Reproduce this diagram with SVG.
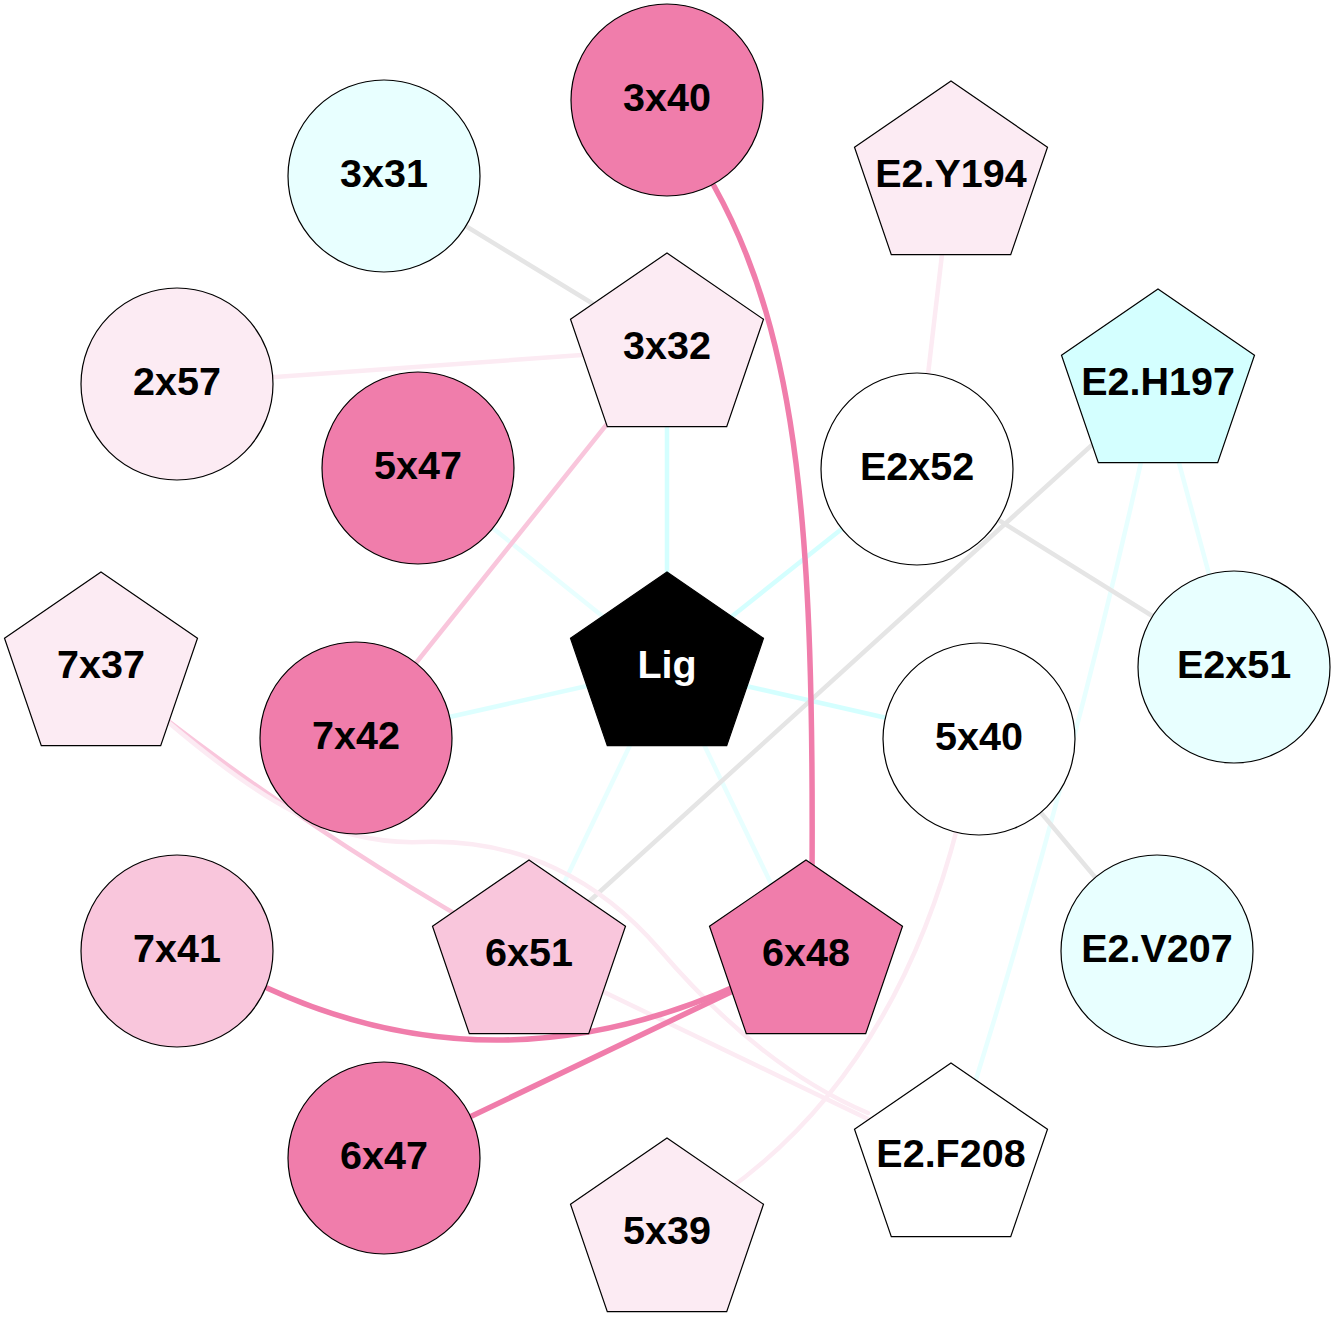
<svg xmlns="http://www.w3.org/2000/svg" xmlns:xlink="http://www.w3.org/1999/xlink" width="1336" height="1336" viewBox="0 0 1336 1336">
<style>
.e{fill:none;stroke-linecap:round;}
.hp{stroke:#F07DAB;stroke-width:5.5;}
.lp{stroke:#F9C6DC;stroke-width:4.5;}
.pp{stroke:#FCEBF3;stroke-width:4.5;}
.c1{stroke:#D4FFFF;stroke-width:4.5;}
.c2{stroke:#DDFFFF;stroke-width:4.5;}
.c3{stroke:#E8FFFF;stroke-width:4.5;}
.gr{stroke:#E5E5E5;stroke-width:4.5;}
.n{stroke:#000;stroke-width:1.2;}
.t{font-family:"Liberation Sans",Arial,Helvetica,sans-serif;font-weight:bold;font-size:39.5px;text-anchor:middle;fill:#000;}
.hot{fill:#F07DAB;}
.lpk{fill:#F9C6DC;}
.ppk{fill:#FCEBF3;}
.cy1{fill:#E8FFFF;}
.cy2{fill:#D4FFFF;}
.wh{fill:#FFFFFF;}
</style>
<defs>
<polygon id="pent" points="0,-96 96.5,-29.7 59.7,77.7 -59.7,77.7 -96.5,-29.7"/>
</defs>
<rect width="1336" height="1336" fill="#FFFFFF"/>
<g id="edges">
<line class="e c1" x1="667" y1="349" x2="667" y2="668"/>
<line class="e c1" x1="917" y1="469" x2="667" y2="668"/>
<line class="e c1" x1="979" y1="739" x2="667" y2="668"/>
<line class="e c2" x1="356" y1="738" x2="667" y2="668"/>
<line class="e c3" x1="418" y1="468" x2="667" y2="668"/>
<line class="e c3" x1="529" y1="956" x2="667" y2="668"/>
<line class="e c3" x1="806" y1="956" x2="667" y2="668"/>
<line class="e c3" x1="1158" y1="385" x2="1234" y2="667"/>
<path class="e c3" d="M1158,385 Q1075,772 951,1159"/>
<line class="e gr" x1="384" y1="176" x2="667" y2="349"/>
<line class="e gr" x1="1158" y1="385" x2="529" y2="956"/>
<line class="e gr" x1="917" y1="469" x2="1234" y2="667"/>
<line class="e gr" x1="979" y1="739" x2="1157" y2="951"/>
<line class="e pp" x1="177" y1="384" x2="667" y2="349"/>
<line class="e lp" x1="667" y1="349" x2="356" y2="738"/>
<line class="e pp" x1="951" y1="177" x2="917" y2="469"/>
<path class="e lp" d="M101,668 Q300,830 529,956"/>
<line class="e pp" x1="529" y1="956" x2="951" y2="1159"/>
<path class="e pp" d="M958,825 Q895,1071 725,1192"/>
<path class="e pp" d="M168,722 C260,800 330,845 420,842 C520,838 600,880 660,950 C720,1020 790,1080 868,1113"/>
<path class="e hp" d="M714,186 C800,340 814,540 812,880"/>
<path class="e hp" d="M267,988 Q500,1095 745,982"/>
<line class="e hp" x1="384" y1="1158" x2="806" y2="956"/>
</g>
<g id="n-3x40"><circle class="n hot" cx="667" cy="100" r="96"/><text class="t" x="667" y="111">3x40</text></g>
<g id="n-3x31"><circle class="n cy1" cx="384" cy="176" r="96"/><text class="t" x="384" y="187">3x31</text></g>
<g id="n-E2.Y194"><use href="#pent" xlink:href="#pent" x="951" y="177" class="n ppk"/><text class="t" x="951" y="187">E2.Y194</text></g>
<g id="n-3x32"><use href="#pent" xlink:href="#pent" x="667" y="349" class="n ppk"/><text class="t" x="667" y="359">3x32</text></g>
<g id="n-2x57"><circle class="n ppk" cx="177" cy="384" r="96"/><text class="t" x="177" y="395">2x57</text></g>
<g id="n-E2.H197"><use href="#pent" xlink:href="#pent" x="1158" y="385" class="n cy2"/><text class="t" x="1158" y="395">E2.H197</text></g>
<g id="n-5x47"><circle class="n hot" cx="418" cy="468" r="96"/><text class="t" x="418" y="479">5x47</text></g>
<g id="n-E2x52"><circle class="n wh" cx="917" cy="469" r="96"/><text class="t" x="917" y="480">E2x52</text></g>
<g id="n-7x37"><use href="#pent" xlink:href="#pent" x="101" y="668" class="n ppk"/><text class="t" x="101" y="678">7x37</text></g>
<g id="n-Lig"><use href="#pent" xlink:href="#pent" x="667" y="668" fill="#000000" class="n"/><text class="t" x="667" y="678" fill="#FFFFFF" style="fill:#FFFFFF">Lig</text></g>
<g id="n-E2x51"><circle class="n cy1" cx="1234" cy="667" r="96"/><text class="t" x="1234" y="678">E2x51</text></g>
<g id="n-7x42"><circle class="n hot" cx="356" cy="738" r="96"/><text class="t" x="356" y="749">7x42</text></g>
<g id="n-5x40"><circle class="n wh" cx="979" cy="739" r="96"/><text class="t" x="979" y="750">5x40</text></g>
<g id="n-7x41"><circle class="n lpk" cx="177" cy="951" r="96"/><text class="t" x="177" y="962">7x41</text></g>
<g id="n-6x51"><use href="#pent" xlink:href="#pent" x="529" y="956" class="n lpk"/><text class="t" x="529" y="966">6x51</text></g>
<g id="n-6x48"><use href="#pent" xlink:href="#pent" x="806" y="956" class="n hot"/><text class="t" x="806" y="966">6x48</text></g>
<g id="n-E2.V207"><circle class="n cy1" cx="1157" cy="951" r="96"/><text class="t" x="1157" y="962">E2.V207</text></g>
<g id="n-6x47"><circle class="n hot" cx="384" cy="1158" r="96"/><text class="t" x="384" y="1169">6x47</text></g>
<g id="n-E2.F208"><use href="#pent" xlink:href="#pent" x="951" y="1159" class="n wh"/><text class="t" x="951" y="1167">E2.F208</text></g>
<g id="n-5x39"><use href="#pent" xlink:href="#pent" x="667" y="1234" class="n ppk"/><text class="t" x="667" y="1244">5x39</text></g>
</svg>
